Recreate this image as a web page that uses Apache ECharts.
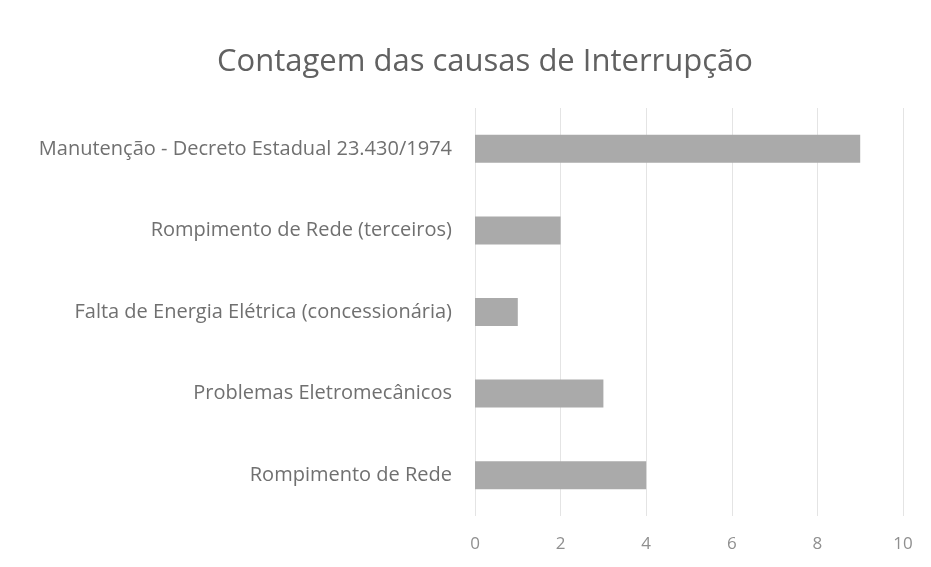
<!DOCTYPE html>
<html>
<head>
<meta charset="utf-8">
<script src="https://cdn.jsdelivr.net/npm/echarts@6/dist/echarts.min.js"></script>
<style>
  html, body { margin: 0; padding: 0; background: #fff; }
  #chart { width: 931px; height: 567px; }
</style>
</head>
<body>
<div id="chart"></div>
<script>
// categories listed bottom to top (ECharts category axis on y goes upward)
var categories = [
  "Rompimento de Rede",
  "Problemas Eletromecânicos",
  "Falta de Energia Elétrica (concessionária)",
  "Rompimento de Rede (terceiros)",
  "Manutenção - Decreto Estadual 23.430/1974"
];
var counts = [4, 3, 1, 2, 9];
var xTicks = [0, 2, 4, 6, 8, 10];

var chart = echarts.init(document.getElementById("chart"));
chart.setOption({
  backgroundColor: "#ffffff",
  title: {
    text: "Contagem das causas de Interrupção",
    left: 480,
    textAlign: "center",
    top: 42,
    textStyle: {
      fontFamily: "Open Sans",
      fontSize: 31,
      fontWeight: "normal",
      color: "#616161"
    }
  },
  grid: {
    left: 475,
    right: 28,
    top: 108,
    bottom: 51
  },
  xAxis: {
    type: "value",
    min: xTicks[0],
    max: xTicks[xTicks.length - 1],
    interval: 2,
    axisLine: { show: false },
    axisTick: { show: false },
    splitLine: { lineStyle: { color: "#e4e4e4", width: 1 } },
    axisLabel: {
      margin: 20,
      fontFamily: "Open Sans",
      fontSize: 17,
      color: "#8f8f8f"
    }
  },
  yAxis: {
    type: "category",
    data: categories,
    axisLine: { show: false },
    axisTick: { show: false },
    axisLabel: {
      margin: 23,
      fontFamily: "Open Sans",
      fontSize: 20,
      color: "#707070"
    }
  },
  series: [{
    type: "bar",
    data: counts,
    barWidth: 28,
    itemStyle: { color: "#aaaaaa" }
  }]
});
</script>
</body>
</html>
